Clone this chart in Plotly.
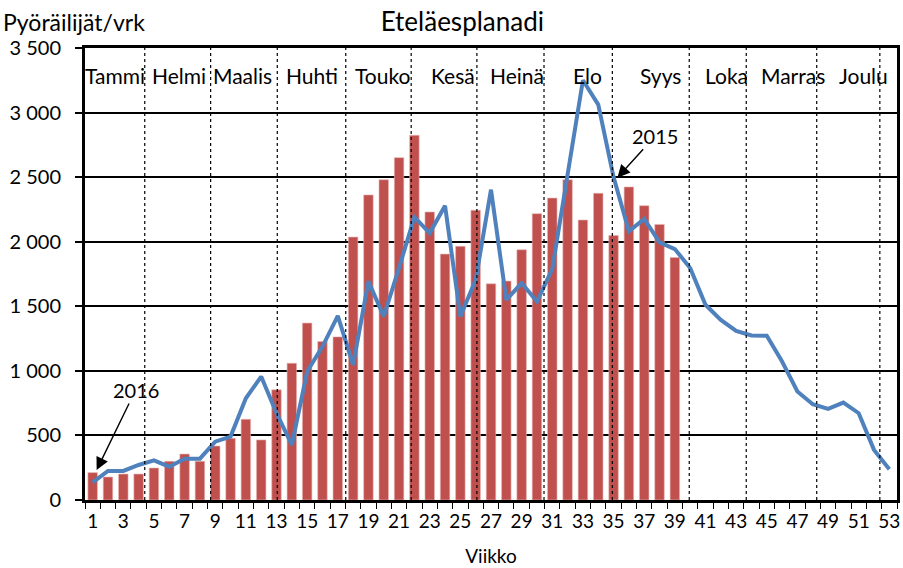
import plotly.graph_objects as go

weeks_2016 = list(range(1, 40))
riders_2016 = [212, 178, 201, 201, 248, 300, 356, 300, 418, 478, 625, 465, 853, 1059,
               1370, 1227, 1263, 2036, 2362, 2480, 2651, 2824, 2230, 1904, 1964, 2243,
               1674, 1695, 1938, 2217, 2338, 2480, 2168, 2375, 2049, 2424, 2279, 2134, 1878]

weeks_2015 = list(range(1, 54))
riders_2015 = [137, 225, 225, 271, 307, 258, 320, 320, 452, 491, 788, 956, 672, 426,
               995, 1188, 1426, 1047, 1693, 1421, 1800, 2191, 2067, 2279, 1421, 1705,
               2403, 1550, 1680, 1537, 1790, 2540, 3250, 3062, 2500, 2080, 2176, 1995,
               1943, 1796, 1512, 1395, 1310, 1274, 1272, 1072, 840, 742, 705, 754, 672,
               388, 238]

months = ["Tammi", "Helmi", "Maalis", "Huhti", "Touko", "Kesä", "Heinä", "Elo",
          "Syys", "Loka", "Marras", "Joulu"]
# month boundaries in week units (as drawn in the original)
month_bounds = [4.40, 8.70, 13.05, 17.52, 21.79, 26.08, 30.46, 34.92, 39.94, 43.66, 48.26, 52.38]

y_tick_vals = [0, 500, 1000, 1500, 2000, 2500, 3000, 3500]
y_tick_text = ["0", "500", "1 000", "1 500", "2 000", "2 500", "3 000", "3 500"]
x_tick_vals = list(range(1, 54, 2))

FONT = "Lato"
month_label_x = [2.45, 6.62, 10.8, 15.3, 19.96, 24.5, 28.7, 33.3, 38.05, 42.4, 46.7, 51.3]

fig = go.Figure()
fig.add_trace(go.Bar(x=weeks_2016, y=riders_2016, width=0.62, name="2016",
                     marker=dict(color="#C0504D", line=dict(color="#E8B5B4", width=0.6))))
fig.add_trace(go.Scatter(x=weeks_2015, y=riders_2015, mode="lines", name="2015",
                         line=dict(color="#4F81BD", width=4)))

shapes = []
for b in month_bounds:
    shapes.append(dict(type="line", xref="x", yref="paper", x0=b, x1=b, y0=0, y1=1,
                       line=dict(color="black", width=1.2, dash="dot"), layer="above"))

annotations = []
for m, mx in zip(months, month_label_x):
    annotations.append(dict(x=mx, y=0.94, xref="x", yref="paper", text=m, showarrow=False,
                            yanchor="middle",
                            font=dict(family=FONT, size=21, color="black")))

annotations.append(dict(x=0, y=1, xref="paper", yref="paper", text="Pyöräilijät/vrk",
                        showarrow=False, xanchor="left", yanchor="middle",
                        xshift=-84, yshift=26, font=dict(family=FONT, size=23, color="black")))
annotations.append(dict(x=1.26, y=232, xref="x", yref="y", text="2016", showarrow=True,
                        ax=39, ay=-80, arrowhead=2, arrowsize=1.8, arrowwidth=1.4,
                        arrowcolor="black", font=dict(family=FONT, size=20, color="black")))
annotations.append(dict(x=35.25, y=2496, xref="x", yref="y", text="2015", showarrow=True,
                        ax=38, ay=-42, arrowhead=2, arrowsize=1.8, arrowwidth=1.4,
                        arrowcolor="black", font=dict(family=FONT, size=20, color="black")))

fig.update_layout(
    width=903, height=568,
    margin=dict(l=85, r=6, t=48, b=68),
    plot_bgcolor="white", paper_bgcolor="white",
    showlegend=False,
    bargap=0.38,
    title=dict(text="Eteläesplanadi", x=0.512, xanchor="center", y=0.962, yanchor="middle",
               font=dict(family=FONT, size=26, color="black")),
    font=dict(family=FONT, size=19, color="black"),
    shapes=shapes,
    annotations=annotations,
    xaxis=dict(range=[0.5, 53.5], tickvals=x_tick_vals, ticktext=[str(v) for v in x_tick_vals],
               ticks="", showgrid=False, zeroline=False, automargin=False,
               showline=True, linecolor="black", linewidth=3, mirror=True,
               ticklabelstandoff=2,
               tickfont=dict(family=FONT, size=19, color="black"),
               minor=dict(tickvals=[k + 0.5 for k in range(0, 54)], ticks="outside",
                          ticklen=6, tickwidth=1.3, tickcolor="black", showgrid=False),
               title=dict(text="Viikko", standoff=19, font=dict(family=FONT, size=19, color="black"))),
    yaxis=dict(range=[0, 3500], tickvals=y_tick_vals, ticktext=y_tick_text,
               ticks="outside", ticklen=7, tickwidth=1.5, tickcolor="black",
               showgrid=True, gridcolor="black", gridwidth=1.5, zeroline=False, automargin=False,
               showline=True, linecolor="black", linewidth=3, mirror=True,
               ticklabelstandoff=10,
               tickfont=dict(family=FONT, size=20, color="black")),
)

fig.write_html("out.html", config={"displayModeBar": False},
               post_script="document.body.style.margin='0';")
